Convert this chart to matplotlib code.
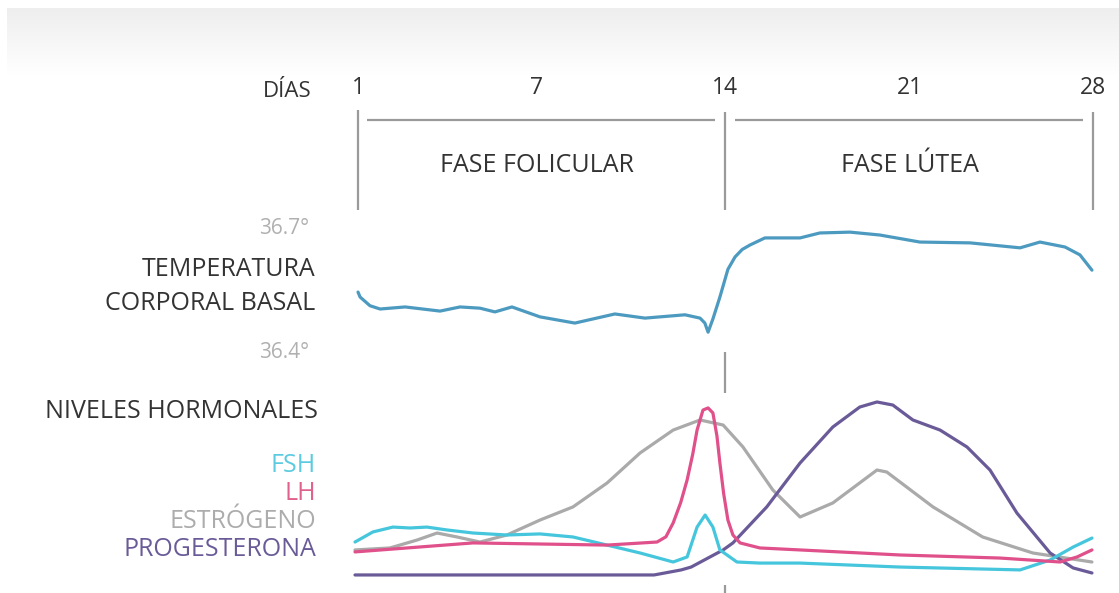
import numpy as np
import matplotlib
matplotlib.use('Agg')
import matplotlib.pyplot as plt
from matplotlib.colors import LinearSegmentedColormap

plt.rcParams['font.family'] = ['Open Sans', 'DejaVu Sans']

W, H = 1119, 593

# --- datos ---
dias_ticks = [1, 7, 14, 21, 28]

# temperatura corporal basal (dia, grados)
temp_dia = [1.0, 1.07, 1.40, 1.74, 2.58, 3.75, 4.42, 5.09, 5.59, 6.16, 7.11, 8.41, 9.90, 11.02,
            12.51, 13.07, 13.25, 13.37, 13.55, 13.81, 14.11, 14.38, 14.65, 14.95, 15.51, 16.84,
            17.59, 18.73, 19.86, 21.38, 23.30, 25.21, 25.97, 26.93, 27.50, 27.96]
temp_val = [36.545, 36.533, 36.512, 36.504, 36.509, 36.499, 36.509, 36.506, 36.497, 36.509,
            36.485, 36.470, 36.492, 36.482, 36.490, 36.482, 36.470, 36.448, 36.480, 36.533,
            36.600, 36.630, 36.648, 36.659, 36.676, 36.676, 36.688, 36.690, 36.683, 36.666,
            36.664, 36.652, 36.666, 36.654, 36.635, 36.598]

# niveles hormonales (dia, nivel relativo 0-100)
fsh_dia = [0.90, 1.50, 2.17, 2.74, 3.31, 3.98, 4.86, 5.99, 7.11, 8.34, 9.61, 10.84, 12.07,
           12.59, 12.96, 13.26, 13.55, 13.81, 14.45, 15.32, 16.84, 20.62, 25.21, 26.36,
           27.24, 27.96]
fsh_val = [21.1, 26.7, 29.4, 28.9, 29.4, 27.8, 26.1, 25.0, 25.6, 23.9, 19.4, 15.0, 10.0,
           12.8, 29.4, 36.1, 29.4, 16.7, 10.0, 9.4, 9.4, 7.2, 5.6, 11.1, 18.3, 23.3]

lh_dia = [0.90, 2.64, 4.86, 7.11, 9.61, 11.47, 11.80, 12.07, 12.35, 12.59, 12.80, 12.96,
          13.18, 13.37, 13.55, 13.70, 13.81, 13.95, 14.11, 14.30, 14.57, 15.32, 16.84,
          20.62, 24.44, 26.74, 27.39, 27.96]
lh_val = [15.6, 17.8, 20.6, 20.0, 19.4, 21.1, 24.0, 31.7, 43.0, 55.6, 70.0, 83.3,
          94.4, 95.6, 92.8, 80.0, 65.0, 48.0, 33.3, 25.0, 20.6, 17.8, 16.7,
          13.9, 12.2, 10.0, 12.8, 16.7]

est_dia = [0.90, 2.07, 2.98, 3.65, 4.32, 5.09, 5.99, 7.11, 8.34, 9.61, 10.84, 12.07, 13.07,
           13.93, 14.68, 15.81, 16.84, 18.08, 19.75, 20.12, 21.88, 23.78, 25.70, 27.96]
est_val = [16.7, 17.8, 22.2, 26.1, 23.9, 21.1, 25.0, 33.3, 40.6, 53.9, 70.6, 83.3, 88.9,
           86.1, 73.9, 50.0, 35.0, 42.8, 61.1, 60.0, 40.6, 23.9, 15.0, 10.0]

prog_dia = [0.90, 11.36, 12.37, 12.74, 13.93, 14.30, 15.58, 16.84, 18.08, 19.10, 19.75,
            20.35, 21.11, 22.15, 23.18, 24.06, 25.09, 26.36, 27.24, 27.96]
prog_val = [2.8, 2.8, 5.6, 7.2, 16.7, 20.6, 40.6, 65.0, 85.0, 96.1, 98.9,
            97.2, 88.9, 83.3, 73.9, 61.1, 37.2, 15.0, 6.7, 3.9]

# --- escala del eje x (la fase folicular esta algo estirada en el original) ---
ancla_dia = [0, 1, 7, 14, 21, 28, 29]
ancla_px = [328, 358, 537, 725, 910, 1093, 1119]


def fwd(d):
    return np.interp(d, ancla_dia, ancla_px)


def inv(p):
    return np.interp(p, ancla_px, ancla_dia)


def fig_xy(x, y):
    return x / W, 1 - y / H


gris_linea = '#9a9a9a'
texto = '#333333'
fs = 18

fig = plt.figure(figsize=(W / 100, H / 100), dpi=100)
fig.patch.set_facecolor('white')

# degradado gris claro arriba
ax_bg = fig.add_axes([7 / W, 1 - 75 / H, 1 - 7 / W, 67 / H])
cmap_bg = LinearSegmentedColormap.from_list('bg', ['#eeeeee', '#ffffff'])
ax_bg.imshow(np.linspace(0, 1, 100).reshape(-1, 1), aspect='auto', cmap=cmap_bg)
ax_bg.axis('off')

x0, x1 = 358 / W, 1093 / W

# capa para encabezado y marcas (y en pixeles)
ax0 = fig.add_axes([x0, 0, x1 - x0, 1])
ax0.set_xscale('function', functions=(fwd, inv))
ax0.set_xlim(1, 28)
ax0.set_ylim(H, 0)
ax0.axis('off')
ax0.patch.set_alpha(0)

for d in dias_ticks:
    ax0.text(d, 88, str(d), ha='center', va='center', fontsize=16.5, color=texto)

kw = dict(color=gris_linea, lw=1.6, solid_capstyle='butt', clip_on=False)
ax0.plot([1, 1], [110, 210], **kw)
ax0.plot([14, 14], [112, 210], **kw)
ax0.plot([28, 28], [112, 210], **kw)
ax0.plot([1.3, 13.63], [120, 120], **kw)
ax0.plot([14.38, 27.62], [120, 120], **kw)
ax0.plot([14, 14], [352, 393], **kw)
ax0.plot([14, 14], [585, 600], **kw)

ax0.text(7.0, 165, 'FASE FOLICULAR', ha='center', va='center', fontsize=fs, color=texto)
ax0.text(21.0, 165, 'FASE LÚTEA', ha='center', va='center', fontsize=fs, color=texto)

# temperatura
ax_t = fig.add_axes([x0, 1 - 352 / H, x1 - x0, 124 / H])
ax_t.set_xscale('function', functions=(fwd, inv))
ax_t.set_xlim(1, 28)
ax_t.set_ylim(36.4, 36.7)
ax_t.axis('off')
ax_t.patch.set_alpha(0)
ax_t.plot(temp_dia, temp_val, color='#4d9ac0', lw=2.3, solid_joinstyle='round',
          solid_capstyle='round', clip_on=False)

# hormonas
ax_h = fig.add_axes([x0, 1 - 580 / H, x1 - x0, 180 / H])
ax_h.set_xscale('function', functions=(fwd, inv))
ax_h.set_xlim(1, 28)
ax_h.set_ylim(0, 100)
ax_h.axis('off')
ax_h.patch.set_alpha(0)
lkw = dict(lw=2.3, solid_joinstyle='round', solid_capstyle='round', clip_on=False)
ax_h.plot(est_dia, est_val, color='#aaaaaa', **lkw)
ax_h.plot(prog_dia, prog_val, color='#6a5b98', **lkw)
ax_h.plot(fsh_dia, fsh_val, color='#45c6dc', **lkw)
ax_h.plot(lh_dia, lh_val, color='#e0508a', **lkw)

# etiquetas de la izquierda
fig.text(*fig_xy(312, 92), 'DÍAS', ha='right', va='center', fontsize=16, color=texto)
fig.text(*fig_xy(309, 229), '36.7°', ha='right', va='center', fontsize=15, color='#b0b0b0')
fig.text(*fig_xy(315, 270), 'TEMPERATURA', ha='right', va='center', fontsize=fs, color=texto)
fig.text(*fig_xy(315, 303), 'CORPORAL BASAL', ha='right', va='center', fontsize=fs, color=texto)
fig.text(*fig_xy(309, 352), '36.4°', ha='right', va='center', fontsize=15, color='#b0b0b0')
fig.text(*fig_xy(318, 412), 'NIVELES HORMONALES', ha='right', va='center', fontsize=fs, color=texto)
fig.text(*fig_xy(316, 466), 'FSH', ha='right', va='center', fontsize=fs, color='#5ccae0')
fig.text(*fig_xy(316, 493), 'LH', ha='right', va='center', fontsize=fs, color='#e0608e')
fig.text(*fig_xy(316, 521), 'ESTRÓGENO', ha='right', va='center', fontsize=fs, color='#acacac')
fig.text(*fig_xy(316, 549), 'PROGESTERONA', ha='right', va='center', fontsize=fs, color='#6a5b98')

fig.savefig('out.png', dpi=100)
